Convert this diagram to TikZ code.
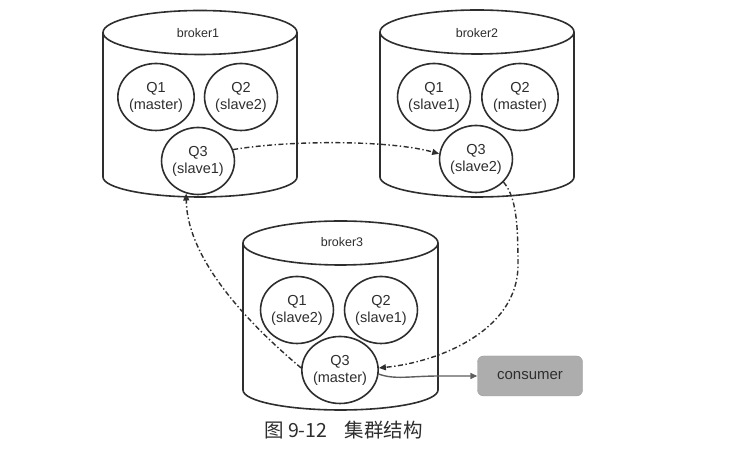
\documentclass[tikz,border=0pt]{standalone}
\usepackage{fontspec}
\setmainfont{Liberation Sans}
\newfontfamily\cjk{Noto Sans CJK SC}
\usetikzlibrary{shapes.geometric,arrows.meta}
\definecolor{ink}{HTML}{2E2E2E}
\definecolor{boxgray}{HTML}{ADADAD}
\definecolor{linegray}{HTML}{5E5E5E}
\tikzset{
  cyl/.style={draw=ink, line width=1.6pt},
  qnode/.style={ellipse, draw=ink, line width=1.6pt, minimum width=72pt, minimum height=67pt,
    inner sep=0pt, align=center, text=ink, font=\fontsize{14.5}{17}\selectfont},
  blabel/.style={text=ink, font=\fontsize{12.5}{15}\selectfont},
  dashdot/.style={draw=ink, line width=1.4pt, dash pattern=on 5pt off 2.5pt on 1.4pt off 2.5pt,
    -{Triangle[length=7pt,width=6pt]}},
  solidarrow/.style={draw=linegray, line width=1.4pt, -{Triangle[length=7pt,width=6pt]}},
  consumerbox/.style={rectangle, rounded corners=6pt, fill=boxgray, draw=boxgray!90!black,
    line width=0.4pt, minimum width=105pt, minimum height=40pt, text=ink,
    font=\fontsize{15}{18}\selectfont},
}
\begin{document}
\begin{tikzpicture}[x=1pt,y=1pt]
\useasboundingbox[fill=white] (0,0) rectangle (737,462);
% broker1 cylinder
\draw[cyl] (103,429.5) -- (103,285) arc[start angle=180,end angle=360,x radius=97pt,y radius=20pt] -- (297,429.5);
\draw[cyl] (200,429.5) ellipse[x radius=97pt,y radius=22pt];
\node[blabel] (b1) at (198,429) {broker1};
% broker2 cylinder
\draw[cyl] (380,430) -- (380,285) arc[start angle=180,end angle=360,x radius=97pt,y radius=20pt] -- (574,430);
\draw[cyl] (477,430) ellipse[x radius=97pt,y radius=22pt];
\node[blabel] (b2) at (477,429) {broker2};
% broker3 cylinder
\draw[cyl] (243,219) -- (243,72) arc[start angle=180,end angle=360,x radius=97.5pt,y radius=20pt] -- (438,219);
\draw[cyl] (340.5,219) ellipse[x radius=97.5pt,y radius=22pt];
\node[blabel] (b3) at (342,220) {broker3};
% queues
\node[qnode] (b1q1) at (156,365) {Q1\\(master)};
\node[qnode] (b1q2) at (241,365) {Q2\\(slave2)};
\node[qnode] (b1q3) at (198,301) {Q3\\(slave1)};
\node[qnode] (b2q1) at (434,365) {Q1\\(slave1)};
\node[qnode] (b2q2) at (520,365) {Q2\\(master)};
\node[qnode] (b2q3) at (476,303) {Q3\\(slave2)};
\node[qnode] (b3q1) at (297,152) {Q1\\(slave2)};
\node[qnode] (b3q2) at (381,152) {Q2\\(slave1)};
\node[qnode] (b3q3) at (340,92) {Q3\\(master)};
% consumer
\node[consumerbox] (cons) at (530,86) {consumer};
% connectors
\draw[dashdot] (b1q3.18) .. controls (290,322) and (390,322) .. (b2q3.172);
\draw[dashdot] (b2q3.-40) .. controls (516,265) and (518,240) .. (518,197)
   .. controls (518,132) and (440,100) .. (b3q3.3);
\draw[dashdot] (b3q3.177) .. controls (250,137) and (187,202) .. (b1q3.250);
\draw[solidarrow] (b3q3.-6) .. controls (395,82) and (410,86) .. (440,86) -- (cons.west);
% caption
\node[text=ink, font=\cjk\fontsize{19.5}{22}\selectfont] (cap) at (343.5,32) {图 9-12\hspace{0.9em}集群结构};
\end{tikzpicture}
\end{document}
